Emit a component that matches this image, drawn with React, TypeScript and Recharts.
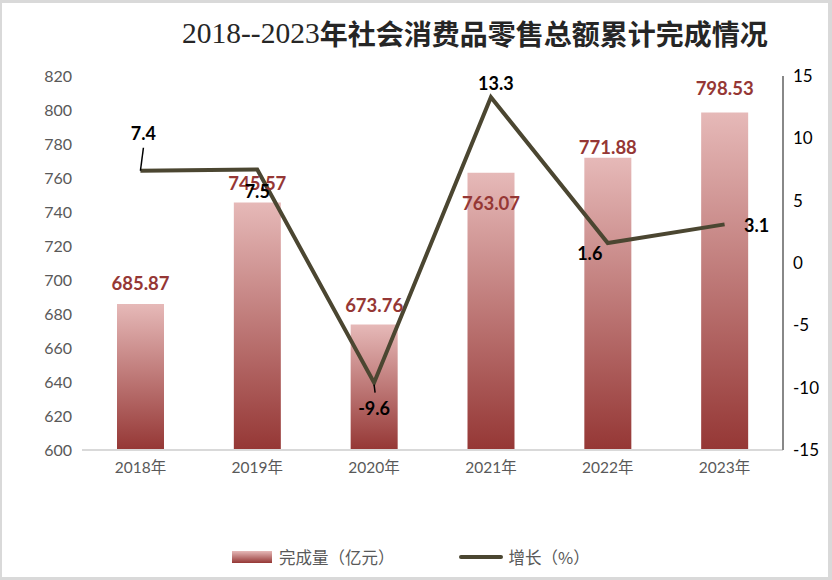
import React from 'react';
import { ComposedChart, Bar, Line, XAxis, YAxis, LabelList } from 'recharts';

const years = ['2018年', '2019年', '2020年', '2021年', '2022年', '2023年'];
const sales = [685.87, 745.57, 673.76, 763.07, 771.88, 798.53];
const growth = [7.4, 7.5, -9.6, 13.3, 1.6, 3.1];
const leftTicks = [600, 620, 640, 660, 680, 700, 720, 740, 760, 780, 800, 820];
const rightTicks = [-15, -10, -5, 0, 5, 10, 15];

const data = years.map((year, i) => ({ year, sales: sales[i], growth: growth[i] }));

// label placement tweaks (center of text relative to bar top / line point)
const barLabelDy = [-21, -20, -20, 30, -11, -24];
const lineLabelOffset = [[3, -38], [0, 21], [0, 25], [5, -14], [-18, 10], [32, 1]];

const BAR_TOP = '#e6b9b8';
const BAR_BOTTOM = '#953735';
const LINE_COLOR = '#4b4631';
const numFont = 'Lato, "Noto Sans", sans-serif';
const cjkFont = 'Lato, "Noto Sans CJK SC", sans-serif';

const BarLabel = (props: any) => {
  const { x, y, width, value, index } = props;
  return (
    <text
      x={x + width / 2}
      y={y + barLabelDy[index]}
      textAnchor="middle"
      dominantBaseline="central"
      fill="#953735"
      fontFamily={numFont}
      fontWeight={700}
      fontSize={18.5}
    >
      {value.toFixed(2)}
    </text>
  );
};

const LineLabel = (props: any) => {
  const { x, y, value, index } = props;
  const [dx, dy] = lineLabelOffset[index];
  return (
    <g>
      {index === 0 && <line x1={x} y1={y} x2={x + 3} y2={y - 23} stroke="#000" strokeWidth={1.5} />}
      {index === 2 && <line x1={x} y1={y + 2} x2={x + 1} y2={y + 10} stroke="#000" strokeWidth={1.5} />}
      <text
        x={x + dx}
        y={y + dy}
        textAnchor="middle"
        dominantBaseline="central"
        fill="#000"
        fontFamily={numFont}
        fontWeight={700}
        fontSize={18}
      >
        {value}
      </text>
    </g>
  );
};

const LegendBox = () => (
  <div
    style={{
      position: 'absolute',
      left: 232,
      top: 546,
      height: 22,
      display: 'flex',
      alignItems: 'center',
      fontFamily: '"Noto Sans CJK SC", sans-serif',
      fontSize: 16.5,
      color: '#595959',
      whiteSpace: 'nowrap',
    }}
  >
    <svg width={40} height={12} style={{ marginRight: 7 }}>
      <defs>
        <linearGradient id="legendGrad" x1="0" y1="0" x2="0" y2="1">
          <stop offset="0%" stopColor={BAR_TOP} />
          <stop offset="100%" stopColor={BAR_BOTTOM} />
        </linearGradient>
      </defs>
      <rect width={40} height={12} fill="url(#legendGrad)" />
    </svg>
    <span style={{ marginRight: 64 }}>完成量（亿元）</span>
    <svg width={44} height={8} style={{ marginRight: 6 }}>
      <line x1={2} y1={4} x2={42} y2={4} stroke={LINE_COLOR} strokeWidth={4} strokeLinecap="round" />
    </svg>
    <span>增长（%）</span>
  </div>
);

export default function App() {
  return (
    <div style={{ position: 'absolute', left: 0, top: 0, width: 832, height: 580, background: '#fff' }}>
      <div
        style={{
          position: 'absolute',
          inset: 0,
          borderStyle: 'solid',
          borderColor: '#d9d9d9',
          borderWidth: '3px 4px 3px 2px',
          pointerEvents: 'none',
          zIndex: 2,
        }}
      />
      <div
        style={{
          position: 'absolute',
          left: 182,
          top: 12,
          height: 42,
          display: 'flex',
          alignItems: 'center',
          color: '#262626',
          whiteSpace: 'nowrap',
          zIndex: 1,
        }}
      >
        <span style={{ fontFamily: '"Liberation Serif", serif', fontSize: 29.5 }}>2018--2023</span>
        <span style={{ fontFamily: '"Noto Sans CJK SC", sans-serif', fontWeight: 700, fontSize: 28 }}>
          年社会消费品零售总额累计完成情况
        </span>
      </div>
      <ComposedChart
        width={832}
        height={580}
        data={data}
        margin={{ top: 76, right: 0, left: 0, bottom: 100 }}
      >
        <defs>
          <linearGradient id="barGrad" x1="0" y1="0" x2="0" y2="1">
            <stop offset="0%" stopColor={BAR_TOP} />
            <stop offset="100%" stopColor={BAR_BOTTOM} />
          </linearGradient>
        </defs>
        <XAxis
          dataKey="year"
          height={30}
          axisLine={{ stroke: '#d9d9d9', strokeWidth: 2 }}
          tickLine={false}
          tick={{ fill: '#595959', fontSize: 15.5, fontFamily: cjkFont }}
          tickMargin={6}
        />
        <YAxis
          yAxisId="left"
          width={82}
          domain={[600, 820]}
          ticks={leftTicks}
          interval={0}
          axisLine={false}
          tickLine={false}
          tick={{ fill: '#595959', fontSize: 16, fontFamily: numFont }}
          tickMargin={4}
        />
        <YAxis
          yAxisId="right"
          orientation="right"
          width={49}
          domain={[-15, 15]}
          ticks={rightTicks}
          interval={0}
          axisLine={{ stroke: '#888888', strokeWidth: 2 }}
          tickLine={false}
          tick={{ fill: '#000', fontSize: 17, fontFamily: numFont }}
          tickMargin={4}
        />
        <Bar
          yAxisId="left"
          dataKey="sales"
          name="完成量（亿元）"
          fill="url(#barGrad)"
          barSize={47}
          isAnimationActive={false}
        >
          <LabelList dataKey="sales" content={<BarLabel />} />
        </Bar>
        <Line
          yAxisId="right"
          dataKey="growth"
          name="增长（%）"
          type="linear"
          stroke={LINE_COLOR}
          strokeWidth={4}
          dot={false}
          activeDot={false}
          isAnimationActive={false}
        >
          <LabelList dataKey="growth" content={<LineLabel />} />
        </Line>
      </ComposedChart>
      <LegendBox />
    </div>
  );
}
